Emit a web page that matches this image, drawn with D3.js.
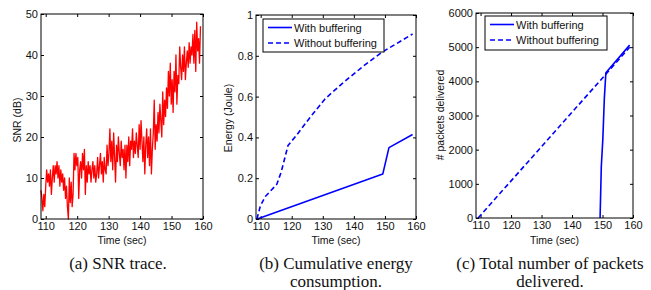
<!DOCTYPE html>
<html>
<head>
<meta charset="utf-8">
<script src="https://cdn.jsdelivr.net/npm/d3@7"></script>
<style>
  body { margin: 0; background: #fff; }
  svg { display: block; }
  .sans { font-family: "Liberation Sans", Arial, Helvetica, "DejaVu Sans", sans-serif; }
  .serif { font-family: "Liberation Serif", "Times New Roman", Times, "DejaVu Serif", serif; }
</style>
</head>
<body>
<svg></svg>
<script>
// données
const xTicks = [110, 120, 130, 140, 150, 160];

// (a) trace SNR, un point toutes les 0.3 s depuis 108.5 s
const snrStart = 108.5;
const snrStep = 0.3;
const snrValues = [
  7, 5, 2, 6, 3, 8, 12, 9, 11, 8,
  12, 6, 10, 13, 9, 13, 11, 14, 10, 13,
  8, 12, 9, 11, 7, 10, 5, 8, 3, 0,
  10, 4, 9, 3, 6, 16, 12, 16, 13, 15,
  5, 12, 14, 10, 16, 12, 17, 6, 13, 9,
  14, 11, 13, 9, 12, 14, 10, 13, 9, 11,
  15, 10, 13, 16, 11, 14, 9, 15, 12, 11,
  18, 13, 16, 22, 14, 19, 12, 21, 15, 9,
  18, 14, 20, 16, 13, 19, 15, 17, 12, 18,
  10, 18, 14, 20, 13, 19, 17, 22, 15, 19,
  16, 21, 18, 15, 23, 17, 24, 19, 14, 20,
  11, 18, 22, 15, 20, 13, 22, 11, 17, 21,
  29, 17, 23, 19, 26, 21, 28, 24, 20, 31,
  23, 29, 25, 32, 27, 36, 30, 38, 28, 34,
  26, 36, 31, 40, 28, 35, 33, 42, 37, 34,
  40, 36, 42, 34, 38, 41, 37, 43, 38, 42,
  40, 45, 38, 46, 36, 48, 41, 44, 38, 47
];
const snrTicks = [0, 10, 20, 30, 40, 50];

// (b) énergie cumulée
const energyWithTime = [108.9, 149.3, 151.3, 158.9];
const energyWith = [0, 0.22, 0.35, 0.414];
const energyWithoutTime = [108.8, 109.9, 111.5, 115.2, 116.6, 118.8, 121.5, 126, 130.8, 136.7, 143.1, 149.3, 153.8, 158.9];
const energyWithout = [0, 0.064, 0.11, 0.17, 0.23, 0.36, 0.41, 0.50, 0.59, 0.67, 0.75, 0.82, 0.86, 0.907];
const energyTicks = [0, 0.2, 0.4, 0.6, 0.8, 1];

// (c) paquets livrés
const pktWithTime = [149.2, 149.6, 150.1, 150.6, 151.1, 158.9];
const pktWith = [0, 1500, 2300, 3500, 4250, 5060];
const pktWithoutTime = [109.2, 151.0, 158.9];
const pktWithout = [0, 4200, 5000];
const pktTicks = [0, 1000, 2000, 3000, 4000, 5000, 6000];

const legendLabels = ["With buffering", "Without buffering"];

const svg = d3.select("svg").attr("width", 651).attr("height", 290);
svg.append("rect").attr("width", 651).attr("height", 290).attr("fill", "#fff");

function zip(xs, ys) {
  return xs.map((x, i) => ({ x: x, y: ys[i] }));
}

function drawPanel(p) {
  const x = d3.scaleLinear().domain([108.5, 160]).range([p.left, p.right]);
  const y = d3.scaleLinear().domain(p.yDomain).range([p.bottom, p.top]);
  const g = svg.append("g");

  // axes façon matlab: ticks vers l'intérieur sur les 4 côtés
  const styleAxis = sel => {
    sel.attr("font-family", null).attr("font-size", null).attr("class", "sans")
      .style("font-size", "11px");
    sel.select(".domain").remove();
    sel.selectAll("line").attr("stroke", "#000");
    sel.selectAll("text").attr("fill", "#111");
  };
  g.append("g").attr("transform", `translate(0,${p.bottom})`)
    .call(d3.axisBottom(x).tickValues(xTicks).tickSizeInner(-3).tickSizeOuter(0).tickPadding(3))
    .call(styleAxis);
  g.append("g").attr("transform", `translate(0,${p.top})`)
    .call(d3.axisTop(x).tickValues(xTicks).tickSizeInner(-3).tickSizeOuter(0).tickFormat(""))
    .call(styleAxis);
  g.append("g").attr("transform", `translate(${p.left},0)`)
    .call(d3.axisLeft(y).tickValues(p.yTicks).tickSizeInner(-3).tickSizeOuter(0).tickPadding(3).tickFormat(d3.format("~g")))
    .call(styleAxis);
  g.append("g").attr("transform", `translate(${p.right},0)`)
    .call(d3.axisRight(y).tickValues(p.yTicks).tickSizeInner(-3).tickSizeOuter(0).tickFormat(""))
    .call(styleAxis);

  const line = d3.line().x(d => x(d.x)).y(d => y(d.y));
  p.series.forEach(s => {
    g.append("path")
      .datum(s.data)
      .attr("fill", "none")
      .attr("stroke", s.color)
      .attr("stroke-width", s.width)
      .attr("stroke-dasharray", s.dash || null)
      .attr("stroke-linejoin", "round")
      .attr("d", line);
  });

  g.append("rect")
    .attr("x", p.left).attr("y", p.top)
    .attr("width", p.right - p.left).attr("height", p.bottom - p.top)
    .attr("fill", "none").attr("stroke", "#000").attr("stroke-width", 1);

  // titres des axes
  g.append("text")
    .attr("class", "sans")
    .attr("x", (p.left + p.right) / 2).attr("y", 244)
    .attr("text-anchor", "middle")
    .style("font-size", "10.5px").attr("fill", "#111")
    .text("Time (sec)");
  g.append("text")
    .attr("class", "sans")
    .attr("transform", `translate(${p.ylabelX},${p.ylabelY}) rotate(-90)`)
    .attr("text-anchor", "middle")
    .style("font-size", "10.5px").attr("fill", "#111")
    .text(p.ylabel);

  // légende
  if (p.legend) {
    const L = p.legend;
    g.append("rect")
      .attr("x", L.x).attr("y", L.y).attr("width", L.w).attr("height", L.h)
      .attr("fill", "#fff").attr("stroke", "#000").attr("stroke-width", 1);
    p.series.forEach((s, i) => {
      const ly = L.y + 8.5 + i * 15.5;
      g.append("line")
        .attr("x1", L.x + 5).attr("x2", L.x + 29)
        .attr("y1", ly).attr("y2", ly)
        .attr("stroke", s.color).attr("stroke-width", s.width)
        .attr("stroke-dasharray", s.dash || null);
      g.append("text")
        .attr("class", "sans")
        .attr("x", L.x + 31).attr("y", ly + 4)
        .style("font-size", "11px").attr("fill", "#111")
        .text(legendLabels[i]);
    });
  }

  // légende sous la figure
  p.caption.forEach((c, i) => {
    svg.append("text")
      .attr("class", "serif")
      .attr("x", p.captionX).attr("y", 269 + i * 18)
      .attr("text-anchor", "middle")
      .style("font-size", "17px").attr("fill", "#111")
      .text(c);
  });
}

drawPanel({
  left: 41, right: 203, top: 14, bottom: 219,
  yDomain: [0, 50], yTicks: snrTicks,
  ylabel: "SNR (dB)", ylabelX: 21, ylabelY: 120,
  series: [{ data: snrValues.map((v, i) => ({ x: snrStart + i * snrStep, y: v })), color: "#ff0000", width: 1.3 }],
  caption: ["(a) SNR trace."], captionX: 118
});

drawPanel({
  left: 256, right: 416, top: 15, bottom: 219,
  yDomain: [0, 1], yTicks: energyTicks,
  ylabel: "Energy (Joule)", ylabelX: 232, ylabelY: 118,
  series: [
    { data: zip(energyWithTime, energyWith), color: "#0000ff", width: 1.6 },
    { data: zip(energyWithoutTime, energyWithout), color: "#0000ff", width: 1.6, dash: "5,3" }
  ],
  legend: { x: 263, y: 19, w: 121, h: 33 },
  caption: ["(b) Cumulative energy", "consumption."], captionX: 336
});

drawPanel({
  left: 476, right: 633, top: 13, bottom: 218,
  yDomain: [0, 6000], yTicks: pktTicks,
  ylabel: "# packets delivered", ylabelX: 444, ylabelY: 115,
  series: [
    { data: zip(pktWithTime, pktWith), color: "#0000ff", width: 1.6 },
    { data: zip(pktWithoutTime, pktWithout), color: "#0000ff", width: 1.6, dash: "5,3" }
  ],
  legend: { x: 485, y: 16, w: 122, h: 34 },
  caption: ["(c) Total number of packets", "delivered."], captionX: 550
});
</script>
</body>
</html>
